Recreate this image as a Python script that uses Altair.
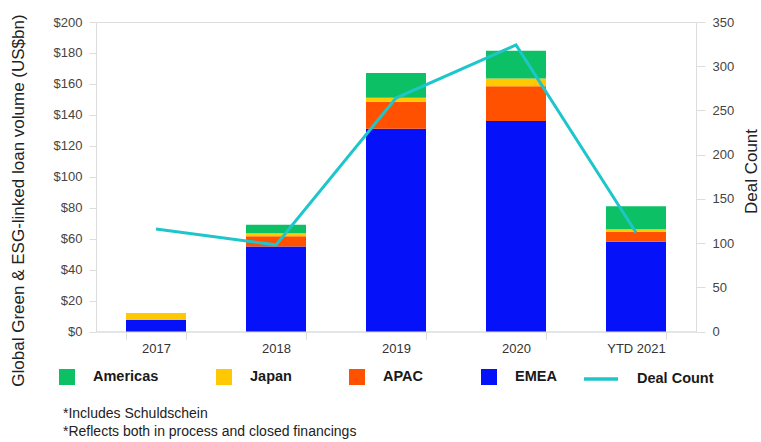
import altair as alt
import pandas as pd

# ---- data ----
years = ["2017", "2018", "2019", "2020", "YTD 2021"]
emea = [7.5, 55, 131, 136, 58]
apac = [0, 6.5, 17.5, 22.5, 6.5]
japan = [4.4, 2, 2.5, 5, 1.5]
americas = [0, 5.5, 16, 18, 15]
deal_count = [116, 98, 264, 324, 112]

regions = ["Americas", "Japan", "APAC", "EMEA"]
region_colors = ["#0CC065", "#FFC800", "#FF5100", "#0511F8"]
stack_order = ["EMEA", "APAC", "Japan", "Americas"]
line_color = "#1EC6CA"

left_ticks = [0, 20, 40, 60, 80, 100, 120, 140, 160, 180, 200]
right_ticks = [0, 50, 100, 150, 200, 250, 300, 350]
footnotes = ["*Includes Schuldschein", "*Reflects both in process and closed financings"]

series = {"EMEA": emea, "APAC": apac, "Japan": japan, "Americas": americas}
rows = []
for i, yr in enumerate(years):
    for k, r in enumerate(stack_order):
        v = series[r][i]
        if v > 0:
            rows.append({"year": yr, "region": r, "value": v, "order": k})
bars_df = pd.DataFrame(rows)
line_df = pd.DataFrame({"year": years, "count": deal_count, "series": ["Deal Count"] * len(years)})

FONT = "Liberation Sans"

x_enc = alt.X(
    "year:N",
    sort=years,
    scale=alt.Scale(paddingInner=0.5, paddingOuter=0.25),
    axis=alt.Axis(
        title=None, labelAngle=0, labelFontSize=13, labelColor="#333",
        domainColor="#dddddd", tickColor="#dddddd", tickSize=8, tickBand="extent",
        labelPadding=3, grid=False,
    ),
)

bars = alt.Chart(bars_df).mark_bar().encode(
    x=x_enc,
    y=alt.Y(
        "value:Q", stack="zero",
        scale=alt.Scale(domain=[0, 200], nice=False),
        axis=alt.Axis(
            values=left_ticks, format="$,.0f", grid=False, domain=False,
            tickColor="#dddddd", tickSize=7, labelPadding=7,
            labelFontSize=13, labelColor="#444",
            title="Global Green & ESG-linked loan volume (US$bn)",
            titleFontSize=17, titleFontWeight="normal", titleColor="#222",
            titleX=-78, titleY=178, titleAngle=270, titleAlign="center", titleBaseline="middle",
        ),
    ),
    color=alt.Color(
        "region:N",
        scale=alt.Scale(domain=regions, range=region_colors),
        legend=alt.Legend(
            title=None, orient="none", legendX=-37, legendY=347, direction="horizontal",
            symbolType="square", symbolSize=256, symbolStrokeWidth=0, symbolOpacity=1,
            labelFontSize=14.5, labelFontWeight="bold", labelColor="#1a1a1a", labelFont=FONT,
            labelOffset=18, columnPadding=57, padding=0,
        ),
    ),
    order=alt.Order("order:Q", sort="ascending"),
)

line = alt.Chart(line_df).mark_line(strokeWidth=3).encode(
    x=x_enc,
    y=alt.Y(
        "count:Q",
        scale=alt.Scale(domain=[0, 350], nice=False),
        axis=alt.Axis(
            orient="right", values=right_ticks, grid=False, domain=False,
            tickColor="#dddddd", tickSize=9, labelPadding=7,
            labelFontSize=13, labelColor="#444",
            title="Deal Count", titleFontSize=17, titleFontWeight="normal", titleColor="#222",
            titleX=55, titleY=149, titleAngle=270, titleAlign="center", titleBaseline="middle",
        ),
    ),
    stroke=alt.Stroke(
        "series:N",
        scale=alt.Scale(domain=["Deal Count"], range=[line_color]),
        legend=alt.Legend(
            title=None, orient="none", legendX=486, legendY=338, direction="horizontal",
            symbolType="stroke", symbolSize=1156, symbolStrokeWidth=3.5,
            labelFontSize=14.5, labelFontWeight="bold", labelColor="#1a1a1a", labelFont=FONT,
            labelOffset=17, padding=0,
        ),
    ),
)

chart = (
    alt.layer(bars, line)
    .resolve_scale(y="independent", color="independent", stroke="independent")
    .properties(
        width=600, height=309.5,
        autosize=alt.AutoSizeParams(type="none"),
        padding={"left": 96, "top": 22, "right": 65, "bottom": 110.5},
        title=alt.TitleParams(
            text=footnotes, orient="bottom", anchor="start", frame="group", fontSize=14,
            fontWeight="normal", font=FONT, color="#222", lineHeight=18,
            dx=-33, offset=21,
        ),
    )
    .configure_view(stroke=None)
    .configure_axis(labelFont=FONT, titleFont=FONT)
    .configure(background="white")
)

chart.save("out.html", embed_options={"renderer": "svg", "actions": False})
